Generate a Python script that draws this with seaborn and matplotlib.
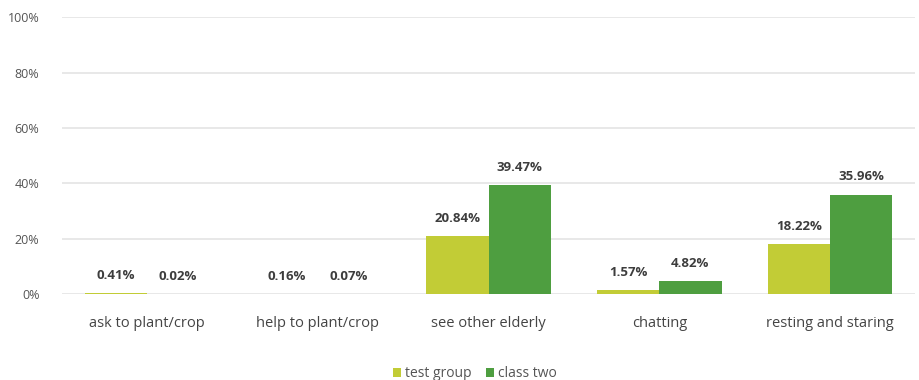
import matplotlib
matplotlib.use("Agg")
import matplotlib.pyplot as plt
import seaborn as sns
import pandas as pd

categories = ["ask to plant/crop", "help to plant/crop", "see other elderly", "chatting", "resting and staring"]
test_group = [0.41, 0.16, 20.84, 1.57, 18.22]
class_two = [0.02, 0.07, 39.47, 4.82, 35.96]
series_names = ["test group", "class two"]
y_ticks = [0, 20, 40, 60, 80, 100]

df = pd.DataFrame({
    "category": categories * 2,
    "value": test_group + class_two,
    "series": [series_names[0]] * len(categories) + [series_names[1]] * len(categories),
})

sns.set_theme(style="white")
plt.rcParams["font.family"] = ["Open Sans", "DejaVu Sans"]

fig = plt.figure(figsize=(9.2, 3.8), dpi=100)
ax = fig.add_axes([0.067, 0.226, 0.928, 0.729])

palette = {"test group": "#c2cc36", "class two": "#4e9e40"}
sns.barplot(data=df, x="category", y="value", hue="series", palette=palette,
            width=0.73, gap=0, saturation=1, linewidth=0, ax=ax, legend=True, zorder=3)

for cont in ax.containers:
    ax.bar_label(cont, fmt="{:.2f}%", padding=8, fontsize=9.5, fontweight="bold",
                 color="#3d3d3d")

ax.set_ylim(0, 100)
ax.set_xlim(-0.5, len(categories) - 0.5)
ax.set_yticks(y_ticks)
ax.set_yticklabels([f"{t}%" for t in y_ticks], fontsize=9, color="#555555")
ax.tick_params(axis="y", length=0, pad=16)
ax.tick_params(axis="x", length=0, pad=16, labelsize=10.5, labelcolor="#444444")
ax.set_xlabel("")
ax.set_ylabel("")
ax.yaxis.grid(True, color="#e4e4e4", linewidth=1.2, zorder=0)
for s in ax.spines.values():
    s.set_visible(False)

ax.legend(loc="upper center", bbox_to_anchor=(0.484, -0.215), ncol=2, frameon=False,
          handlelength=0.6, handleheight=0.6, handletextpad=0.3, columnspacing=1.0,
          fontsize=10, labelcolor="#555555")

fig.savefig("out.png", dpi=100, facecolor="white")
